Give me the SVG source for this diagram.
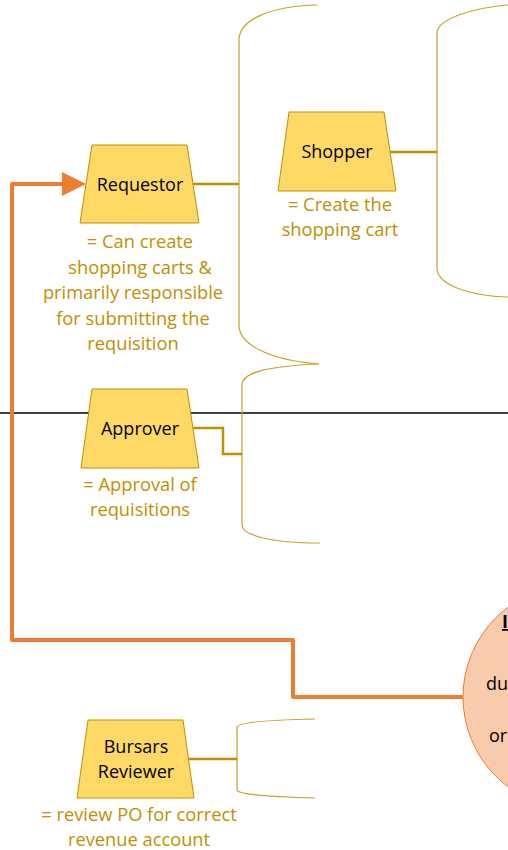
<svg xmlns="http://www.w3.org/2000/svg" width="508" height="850" viewBox="0 0 508 850">
<style>
.trap{fill:#FFD966;stroke:#BF9000;stroke-width:1}
.lbl{font-family:"Open Sans","Noto Sans",sans-serif;font-size:18px;fill:#000;text-anchor:middle}
.desc{font-family:"Open Sans","Noto Sans",sans-serif;font-size:18.3px;fill:#BF9000;text-anchor:middle}
.brace{fill:none;stroke:#C9A227;stroke-width:1.2}
.conn{fill:none;stroke:#BF9000;stroke-width:2.5}
.flow{fill:none;stroke:#ED7D31;stroke-width:4;stroke-linejoin:round}
.ctext{font-family:"Open Sans","Noto Sans",sans-serif;font-size:18px;fill:#000}
</style>
<rect width="508" height="850" fill="#fff"/>
<line id="divider" x1="0" y1="413" x2="508" y2="413" stroke="#404040" stroke-width="2"/>
<g id="braces">
<path class="brace" d="M317,5 C270,6 239,20 239,40 L239,325 C239,345 270,360 319,364"/>
<path class="brace" d="M319,364 C270,366 242,372 242,385 L242,525 C242,535 270,543 320,543"/>
<path class="brace" d="M508,5 C470,8 437,20 437,33 L437,268 C437,285 470,296 508,297"/>
<path class="brace" d="M315,719 C270,720 237,722 237,727 L237,790 C237,794 270,797 315,798"/>
</g>
<g id="connectors">
<path class="conn" d="M193,184 L239,184"/>
<path class="conn" d="M390,152 L437,152"/>
<path class="conn" d="M193,428 L223,428 L223,454 L242,454"/>
<path class="conn" d="M188,759 L237,759"/>
<path class="flow" d="M463,697 L293,697 L293,640 L12,640 L12,184 L64,184"/>
<polygon points="62,172 86,184 62,196" fill="#ED7D31"/>
</g>
<g id="requestor">
<polygon class="trap" points="92,145 187,145 199,223 80,223"/>
<text class="lbl" x="140" y="191">Requestor</text>
<text class="desc" x="140" y="248">= Can create</text>
<text class="desc" x="140" y="273.5">shopping carts &amp;</text>
<text class="desc" x="133" y="299">primarily responsible</text>
<text class="desc" x="133" y="324.5">for submitting the</text>
<text class="desc" x="133" y="350">requisition</text>
</g>
<g id="shopper">
<polygon class="trap" points="289,112 384,112 396,191 278,191"/>
<text class="lbl" x="337" y="158">Shopper</text>
<text class="desc" x="340" y="211">= Create the</text>
<text class="desc" x="340" y="236">shopping cart</text>
</g>
<g id="approver">
<polygon class="trap" points="92,389 187,389 199,468 81,468"/>
<text class="lbl" x="140" y="435">Approver</text>
<text class="desc" x="140" y="491">= Approval of</text>
<text class="desc" x="140" y="515.7">requisitions</text>
</g>
<g id="bursars">
<polygon class="trap" points="88,720 183,720 194,798 77,798"/>
<text class="lbl" x="136" y="753">Bursars</text>
<text class="lbl" x="136" y="778">Reviewer</text>
<text class="desc" x="139" y="820.7">= review PO for correct</text>
<text class="desc" x="139" y="845.7">revenue account</text>
</g>
<g id="note">
<circle cx="575" cy="697" r="112" fill="#F8CBAD" stroke="#ED7D31" stroke-width="1"/>
<text class="ctext" x="502" y="628" font-weight="bold" text-decoration="underline">I</text>
<text class="ctext" x="486" y="690">du</text>
<text class="ctext" x="489" y="741.7">or</text>
</g>
</svg>
